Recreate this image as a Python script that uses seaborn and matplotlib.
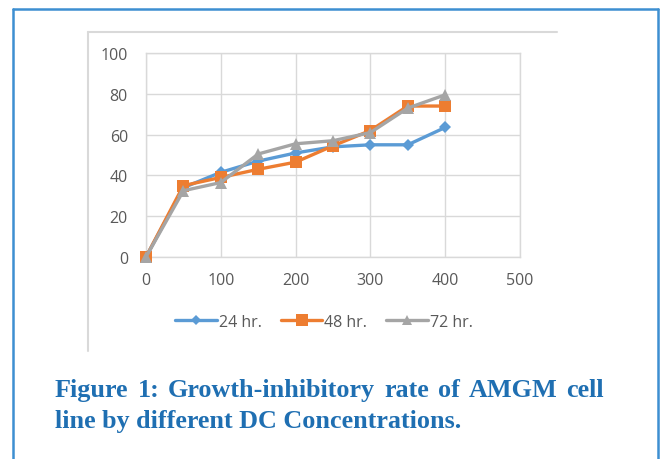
import matplotlib
matplotlib.use("Agg")
import matplotlib.pyplot as plt
from matplotlib.lines import Line2D
import seaborn as sns
import pandas as pd

# ---- data ----
concentrations = [0, 50, 100, 150, 200, 250, 300, 350, 400]
rate_24 = [0, 34, 41.5, 47, 51, 54, 55, 55, 63.5]
rate_48 = [0, 35, 39, 43, 46.5, 54.5, 62, 74, 74]
rate_72 = [0, 32.5, 36.5, 50.5, 55.5, 57, 61, 73, 79.5]
series_names = ["24 hr.", "48 hr.", "72 hr."]
x_ticks = [0, 100, 200, 300, 400, 500]
y_ticks = [0, 20, 40, 60, 80, 100]
caption_lines = ["Figure 1: Growth-inhibitory rate of AMGM cell",
                 "line by different DC Concentrations."]

df = pd.concat([
    pd.DataFrame({"conc": concentrations, "rate": vals, "series": name})
    for name, vals in zip(series_names, [rate_24, rate_48, rate_72])
], ignore_index=True)

sns.set_theme(style="white")
plt.rcParams["font.family"] = ["Open Sans", "DejaVu Sans"]

W, H = 662, 460
fig = plt.figure(figsize=(W / 100, H / 100), dpi=100)

def fx(px):
    return px / W

def fy(py):
    return 1 - py / H

ax = fig.add_axes([fx(146), fy(258), fx(520) - fx(146), fy(54) - fy(258)])

palette = {"24 hr.": "#5b9bd5", "48 hr.": "#ed7d31", "72 hr.": "#a5a5a5"}
markers = {"24 hr.": "D", "48 hr.": "s", "72 hr.": "^"}
sizes = {"24 hr.": 6, "48 hr.": 9, "72 hr.": 8.5}

sns.lineplot(data=df, x="conc", y="rate", hue="series", style="series",
             palette=palette, markers=markers, dashes=False, ax=ax,
             linewidth=2.4, legend=False, markersize=8, markeredgewidth=0,
             zorder=3)
for line, name in zip(ax.get_lines(), series_names):
    line.set_markersize(sizes[name])
    line.set_clip_on(False)

ax.set_xlim(0, 500)
ax.set_ylim(0, 100)
ax.set_xticks(x_ticks)
ax.set_yticks(y_ticks)
ax.set_xlabel("")
ax.set_ylabel("")
ax.grid(True, color="#d9d9d9", linewidth=1)
for sp in ax.spines.values():
    sp.set_color("#d9d9d9")
    sp.set_linewidth(1)
ax.tick_params(axis="both", colors="#595959", labelsize=11.5, length=0)
ax.tick_params(axis="y", pad=13)
ax.tick_params(axis="x", pad=11)

handles = [Line2D([0], [0], color=palette[n], marker=markers[n], lw=2.4,
                  markersize=sizes[n] * 0.9, markeredgewidth=0) for n in series_names]
leg = fig.legend(handles, series_names, loc="center", ncol=3,
                 bbox_to_anchor=(fx(324), fy(323)), frameon=False,
                 handlelength=2.6, handletextpad=0.12, columnspacing=1.2,
                 fontsize=11.5)
for t in leg.get_texts():
    t.set_color("#595959")

# chart frame (light gray, top and left)
gray = "#d9d9d9"
fig.add_artist(Line2D([fx(88), fx(88)], [fy(33), fy(352)], color=gray, lw=1.5))
fig.add_artist(Line2D([fx(88), fx(557)], [fy(33), fy(33)], color=gray, lw=1.5))

# outer blue border
blue = "#3d8fd1"
fig.add_artist(Line2D([fx(13), fx(13)], [fy(10), 0], color=blue, lw=1.8))
fig.add_artist(Line2D([fx(13), fx(658)], [fy(10), fy(10)], color=blue, lw=1.8))
fig.add_artist(Line2D([fx(658), fx(658)], [fy(10), 0], color=blue, lw=1.8))

# caption (first line justified)
cap_color = "#1f6fb2"
cap_kw = dict(family=["Liberation Serif"], weight="bold", fontsize=18.8,
              color=cap_color, va="baseline")
renderer = fig.canvas.get_renderer()
words = caption_lines[0].split(" ")
widths = []
tmp = []
for w in words:
    t = fig.text(0, 0, w, **cap_kw)
    widths.append(t.get_window_extent(renderer).width)
    t.remove()
left_px, right_px = 55, 604
gap = (right_px - left_px - sum(widths)) / (len(words) - 1)
xpos = left_px
for w, wd in zip(words, widths):
    fig.text(fx(xpos), fy(397), w, **cap_kw)
    xpos += wd + gap
fig.text(fx(55), fy(428), caption_lines[1], **cap_kw)

fig.savefig("out.png", dpi=100)
